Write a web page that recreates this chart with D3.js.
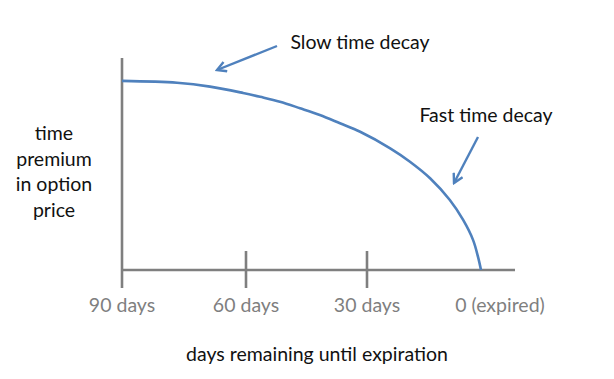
<!DOCTYPE html>
<html><head><meta charset="utf-8">
<script src="https://cdn.jsdelivr.net/npm/d3@7"></script>
<style>html,body{margin:0;padding:0;background:#fff;}svg{display:block;}text{font-family:Lato,"Open Sans",sans-serif;}</style>
</head><body>
<svg id="c" width="614" height="379"></svg>
<script>
// data
const days   = [90, 76.7, 68.7, 60.7, 56.5, 51.6, 46.6, 41.7, 36.7, 31.7, 23.9, 18.7, 13.4, 8.2, 4.7, 2.1, 0.8, 0];
const premium= [89.2, 88.3, 86.5, 83.5, 81.7, 79.4, 76.3, 73.1, 69.2, 65.2, 57.4, 51.1, 43.3, 33.0, 23.6, 14.2, 6.3, 0];
const tickDays = [90, 60, 30, 0];
const tickLabels = ["90 days", "60 days", "30 days", "0 (expired)"];
const yLabelLines = ["time", "premium", "in option", "price"];
const xTitle = "days remaining until expiration";
const notes = [
  {text: "Slow time decay", tx: 360, ty: 49, from: [277, 46], to: [217, 70]},
  {text: "Fast time decay", tx: 486, ty: 122, from: [478, 137], to: [454, 183]}
];

const svg = d3.select("#c");
const x = d3.scaleLinear().domain(tickDays).range([122, 246, 367, 481]);
const y = d3.scaleLinear().domain([0, 100]).range([270, 58]);
const axisCol = "#7f7f7f", blue = "#4f81bd";

// axes
svg.append("line").attr("x1", x(90)).attr("x2", x(90)).attr("y1", y(100)).attr("y2", 288)
  .attr("stroke", axisCol).attr("stroke-width", 2.6);
svg.append("line").attr("x1", x(90)).attr("x2", 515).attr("y1", y(0)).attr("y2", y(0))
  .attr("stroke", axisCol).attr("stroke-width", 2.6);
svg.selectAll("line.tick").data([60, 30]).join("line").attr("class", "tick")
  .attr("x1", d => x(d)).attr("x2", d => x(d)).attr("y1", 251).attr("y2", 288)
  .attr("stroke", axisCol).attr("stroke-width", 2.6);

svg.selectAll("text.tl").data(tickDays).join("text").attr("class", "tl")
  .attr("x", d => d === 0 ? x(d) + 19 : x(d)).attr("y", 312)
  .attr("text-anchor", "middle").attr("font-size", 19.5).attr("fill", "#7f7f7f")
  .text((d, i) => tickLabels[i]);

svg.append("text").attr("x", 317).attr("y", 361).attr("text-anchor", "middle")
  .attr("font-size", 19.5).attr("fill", "#111").text(xTitle);

svg.append("g").selectAll("text").data(yLabelLines).join("text")
  .attr("x", 54).attr("y", (d, i) => 140 + i * 25.5).attr("text-anchor", "middle")
  .attr("font-size", 19.5).attr("fill", "#111").text(d => d);

// curve
const line = d3.line().x((d, i) => x(days[i])).y(d => y(d)).curve(d3.curveCatmullRom.alpha(0.5));
svg.append("path").datum(premium).attr("d", line).attr("fill", "none")
  .attr("stroke", blue).attr("stroke-width", 2.6);

// arrows
svg.append("defs").append("marker").attr("id", "ah").attr("viewBox", "0 0 12 12")
  .attr("refX", 10).attr("refY", 6).attr("markerWidth", 12).attr("markerHeight", 12)
  .attr("markerUnits", "userSpaceOnUse").attr("orient", "auto")
  .append("path").attr("d", "M1,1 L10,6 L1,11").attr("fill", "none")
  .attr("stroke", blue).attr("stroke-width", 2.4);

notes.forEach(n => {
  svg.append("line").attr("x1", n.from[0]).attr("y1", n.from[1]).attr("x2", n.to[0]).attr("y2", n.to[1])
    .attr("stroke", blue).attr("stroke-width", 2.4).attr("marker-end", "url(#ah)");
  svg.append("text").attr("x", n.tx).attr("y", n.ty).attr("text-anchor", "middle")
    .attr("font-size", 19.5).attr("fill", "#111").text(n.text);
});
</script>
</body></html>
